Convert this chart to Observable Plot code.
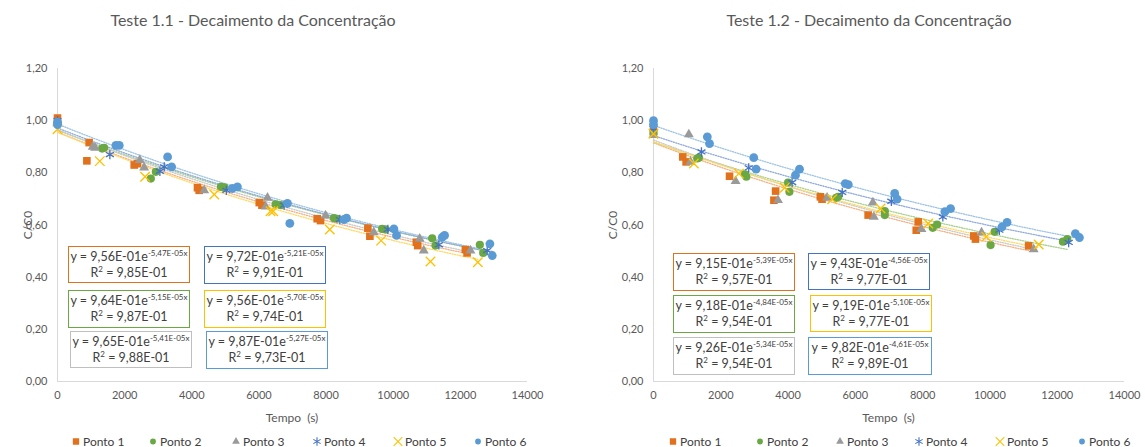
<!DOCTYPE html>
<html><head><meta charset="utf-8">
<script src="https://cdn.jsdelivr.net/npm/d3@7"></script>
<script src="https://cdn.jsdelivr.net/npm/@observablehq/plot@0.6"></script>
<style>
body{margin:0;background:#fff;font-family:Lato,"Open Sans",sans-serif;}
#root{position:relative;width:1145px;height:447px;overflow:hidden;background:#fff;}
.abs{position:absolute;white-space:nowrap;}
.title{font-size:16px;color:#595959;transform:translate(-50%,-50%);}
.axlab{font-size:12px;color:#595959;transform:translate(-50%,-50%);}
.ylab{font-size:12px;color:#595959;transform:translate(-50%,-50%) rotate(-90deg);}
.box{position:absolute;background:#fff;border:1.5px solid;box-sizing:border-box;font-size:12.5px;color:#404040;text-align:center;line-height:16px;padding-top:2px;white-space:nowrap;}
.box sup{font-size:8px;vertical-align:0;position:relative;top:-0.6em;line-height:0;}
.leg{position:absolute;font-size:12px;color:#404040;display:flex;align-items:center;white-space:nowrap;transform:translateY(-50%);}
.leg svg{margin-right:2px;}
svg.plot{position:absolute;top:0;}
</style>
</head><body><div id="root"></div>
<script>
// ---------------- DATA ----------------
const seriesNames = ["Ponto 1","Ponto 2","Ponto 3","Ponto 4","Ponto 5","Ponto 6"];
const xTicks = [0,2000,4000,6000,8000,10000,12000,14000];
const yTicks = [0,0.2,0.4,0.6,0.8,1.0,1.2];

// Teste 1.1 : [tempo (s), C/C0]
const t11_p1 = [[0,1.01],[875,0.846],[943,0.916],[2285,0.83],[2380,0.835],[4170,0.743],[4220,0.733],[6010,0.686],[6090,0.676],[7735,0.624],[7835,0.617],[9245,0.588],[9305,0.557],[10690,0.534],[10730,0.521],[12150,0.506],[12200,0.493]];
const t11_p2 = [[0,0.99],[1390,0.896],[1330,0.893],[2780,0.778],[2930,0.804],[4870,0.746],[4970,0.744],[6500,0.679],[6650,0.676],[8235,0.626],[8330,0.624],[9670,0.585],[9770,0.583],[11160,0.549],[11260,0.521],[12580,0.524],[12680,0.493]];
const t11_p3 = [[0,0.99],[1050,0.9],[1120,0.896],[2450,0.849],[2580,0.82],[4370,0.733],[6255,0.704],[6200,0.67],[7985,0.636],[9420,0.572],[10790,0.547],[10910,0.502],[12300,0.502]];
const t11_p4 = [[0,1.0],[1560,0.87],[3050,0.806],[3180,0.823],[5030,0.733],[6750,0.676],[8410,0.621],[9840,0.583],[11360,0.524],[12800,0.502]];
const t11_p5 = [[0,0.967],[1260,0.845],[2610,0.785],[4670,0.717],[6345,0.653],[6425,0.653],[8110,0.583],[9640,0.54],[11110,0.46],[12520,0.457]];
const t11_p6 = [[0,0.994],[0,0.985],[1740,0.905],[1840,0.905],[3280,0.861],[3400,0.823],[5210,0.74],[5360,0.746],[6850,0.683],[6920,0.606],[8530,0.621],[8610,0.626],[10020,0.585],[10100,0.56],[11460,0.553],[11530,0.56],[12880,0.528],[12950,0.483]];
// trendline coefficients y = a·e^(b·x) and R²
const t11_a  = [0.956, 0.964, 0.965, 0.972, 0.956, 0.987];
const t11_b  = [-5.47e-5, -5.15e-5, -5.41e-5, -5.21e-5, -5.70e-5, -5.27e-5];
const t11_r2 = [0.985, 0.987, 0.988, 0.991, 0.974, 0.973];

// Teste 1.2
const t12_p1 = [[0,0.96],[870,0.861],[970,0.842],[2260,0.787],[3630,0.73],[3580,0.695],[4960,0.708],[5010,0.699],[6380,0.638],[7870,0.612],[7810,0.58],[9520,0.558],[9570,0.546],[11150,0.52]];
const t12_p2 = [[0,0.95],[1300,0.855],[1350,0.858],[2720,0.794],[2760,0.785],[4000,0.763],[4040,0.727],[5430,0.704],[5490,0.708],[6875,0.653],[6875,0.638],[8300,0.589],[8430,0.602],[10140,0.574],[10020,0.523],[12170,0.536],[12300,0.546]];
const t12_p3 = [[0,0.945],[1050,0.947],[1100,0.842],[2440,0.768],[3700,0.695],[5160,0.704],[6520,0.686],[6550,0.631],[7965,0.584],[9750,0.571],[11300,0.507]];
const t12_p4 = [[0,0.97],[1425,0.88],[2830,0.819],[4120,0.763],[5610,0.725],[7070,0.691],[8600,0.631],[10280,0.58],[12340,0.533]];
const t12_p5 = [[0,0.95],[1200,0.836],[2540,0.797],[3900,0.743],[5310,0.699],[6750,0.663],[8165,0.606],[9890,0.555],[11450,0.525]];
const t12_p6 = [[0,1.0],[0,0.985],[1600,0.938],[1665,0.912],[2980,0.858],[3050,0.814],[4220,0.791],[4340,0.814],[5700,0.759],[5790,0.755],[7170,0.721],[7240,0.699],[8660,0.651],[8830,0.663],[10360,0.593],[10510,0.61],[12540,0.567],[12660,0.552]];
const t12_a  = [0.915, 0.918, 0.926, 0.943, 0.919, 0.982];
const t12_b  = [-5.39e-5, -4.84e-5, -5.34e-5, -4.56e-5, -5.10e-5, -4.61e-5];
const t12_r2 = [0.957, 0.954, 0.954, 0.977, 0.977, 0.989];

// ---------------- STYLE ----------------
const colors  = ["#E2711D","#6AA843","#9A9A9A","#4472C4","#FFC000","#5B9BD5"];
const trendColors = ["#F4B183","#A9D18E","#C9C9C9","#8FAADC","#FFD966","#9DC3E6"];
const symbols = ["square","circle","triangle","asterisk","times","circle"];
const radii   = [4.3, 4.1, 3.7, 4.4, 4.4, 4.4];
const boxOrder = [0,3,1,4,2,5]; // reading order of the equation boxes

const root = document.getElementById("root");

function fmtE(x){
  const [m,e] = x.toExponential(2).split("e");
  const ei = +e;
  return m.replace(".",",") + "E" + (ei<0?"-":"+") + String(Math.abs(ei)).padStart(2,"0");
}

function panel(cfg){
  const marks = [
    Plot.ruleX([0],{stroke:"#d9d9d9",strokeWidth:1}),
    Plot.ruleY([0],{stroke:"#d9d9d9",strokeWidth:1}),
    Plot.axisX({ticks:xTicks, tickSize:0, tickPadding:10, fontSize:11, label:null, tickFormat:d=>String(d), fill:"#595959"}),
    Plot.axisY({ticks:yTicks, tickSize:0, tickPadding:10, fontSize:11, label:null, tickFormat:d=>d.toFixed(2).replace(".",","), fill:"#595959"})
  ];
  cfg.series.forEach((s,i)=>{
    const tmax = d3.max(s,d=>d[0]);
    const tr = d3.range(0,61).map(j=>{const t=tmax*j/60; return {t, v:cfg.a[i]*Math.exp(cfg.b[i]*t)};});
    marks.push(Plot.line(tr,{x:"t",y:"v",stroke:trendColors[i],strokeWidth:1.3,strokeDasharray:"1.2,1.4"}));
  });
  cfg.series.forEach((s,i)=>{
    const pts = s.map(([t,v])=>({t,v}));
    const isStroke = symbols[i]==="asterisk"||symbols[i]==="times";
    marks.push(Plot.dot(pts, isStroke
      ? {x:"t",y:"v",symbol:symbols[i],r:radii[i],stroke:colors[i],strokeWidth:1.3,fill:"none"}
      : {x:"t",y:"v",symbol:symbols[i],r:radii[i],fill:colors[i],stroke:"none"}));
  });
  const svg = Plot.plot({
    width:cfg.width, height:447,
    marginLeft:cfg.ml, marginRight:cfg.mr, marginTop:68, marginBottom:66,
    x:{domain:[0,14000]}, y:{domain:[0,1.2]},
    style:{fontFamily:"Lato, 'Open Sans', sans-serif", background:"transparent", overflow:"visible"},
    marks
  });
  svg.classList.add("plot");
  svg.style.left = cfg.left + "px";
  root.appendChild(svg);

  const add = (cls, html, x, y) => { const d=document.createElement("div"); d.className="abs "+cls; d.innerHTML=html; d.style.left=x+"px"; d.style.top=y+"px"; root.appendChild(d); return d; };
  add("title", cfg.title, cfg.titleX, 19);
  add("ylab", "C/C0", cfg.ylabX, 225);
  add("axlab", "Tempo&nbsp; (s)", cfg.left + cfg.ml + (cfg.width-cfg.ml-cfg.mr)/2, 417);

  boxOrder.forEach((si,k)=>{
    const b = cfg.boxes[k];
    const d = document.createElement("div");
    d.className = "box";
    d.style.left=b[0]+"px"; d.style.top=b[1]+"px"; d.style.width=b[2]+"px"; d.style.height=b[3]+"px";
    d.style.borderColor = colors[si]==="#9A9A9A" ? "#BFBFBF" : colors[si];
    d.innerHTML = `y = ${fmtE(cfg.a[si])}e<sup>${fmtE(cfg.b[si])}x</sup><br>R<sup>2</sup> = ${fmtE(cfg.r2[si])}`;
    root.appendChild(d);
  });

  seriesNames.forEach((name,i)=>{
    const d = document.createElement("div");
    d.className="leg";
    const isStroke = symbols[i]==="asterisk"||symbols[i]==="times";
    const sym = {square:d3.symbolSquare,circle:d3.symbolCircle,triangle:d3.symbolTriangle,asterisk:d3.symbolAsterisk,times:d3.symbolTimes}[symbols[i]];
    const size = {square:40,circle:26,triangle:26,asterisk:50,times:50}[symbols[i]];
    const path = d3.symbol(sym,size)();
    d.innerHTML = `<svg width="10" height="10" viewBox="-5 -5 10 10"><path d="${path}" ${isStroke?`fill="none" stroke="${colors[i]}" stroke-width="1.1"`:`fill="${colors[i]}"`}/></svg>${name}`;
    d.style.left = (cfg.legX[i]-5)+"px"; d.style.top="441px";
    root.appendChild(d);
  });
}

panel({
  title:"Teste 1.1 - Decaimento da Concentração", titleX:253, ylabX:27,
  left:0, width:580, ml:57, mr:53,
  series:[t11_p1,t11_p2,t11_p3,t11_p4,t11_p5,t11_p6], a:t11_a, b:t11_b, r2:t11_r2,
  boxes:[[68,246,122,37],[204,246,122,38],[68,290,122,38],[204,290,122,38],[70,331,122,37],[206,331,122,38]],
  legX:[76,153,236,317,398,478]
});
panel({
  title:"Teste 1.2 - Decaimento da Concentração", titleX:869, ylabX:612,
  left:580, width:565, ml:73, mr:21,
  series:[t12_p1,t12_p2,t12_p3,t12_p4,t12_p5,t12_p6], a:t12_a, b:t12_b, r2:t12_r2,
  boxes:[[673,253,122,38],[808,253,122,37],[673,295,122,38],[810,295,122,37],[673,337,122,38],[808,337,124,38]],
  legX:[673,760,840,919,1000,1082]
});
</script></body></html>
